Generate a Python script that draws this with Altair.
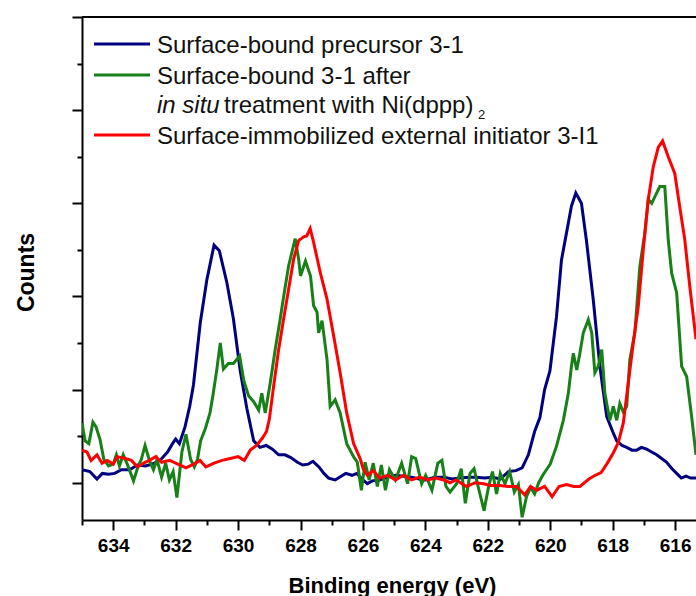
import altair as alt
import pandas as pd

# ---------------- data ----------------
series_names = [
    "Surface-bound precursor 3-1",
    "Surface-bound 3-1 after in situ treatment with Ni(dppp)2",
    "Surface-immobilized external initiator 3-I1",
]
series_colors = ["#000080", "#178017", "#ff0000"]

blue_x = [635.0, 634.75, 634.52, 634.35, 634.15, 633.95, 633.74, 633.48, 633.22, 632.97,
          632.75, 632.5, 632.26, 632.1, 632.0, 631.88, 631.7, 631.55, 631.43, 631.21,
          631.0, 630.77, 630.6, 630.36, 630.15, 629.93, 629.72, 629.5, 629.3, 629.1,
          628.9, 628.7, 628.5, 628.31, 628.1, 627.93, 627.75, 627.6, 627.41, 627.25,
          627.1, 626.89, 626.75, 626.55, 626.35, 626.2, 626.0, 625.86, 625.7, 625.47,
          625.2, 624.96, 624.7, 624.44, 624.2, 624.0, 623.7, 623.41, 623.15, 622.89,
          622.6, 622.37, 622.1, 621.85, 621.6, 621.34, 621.1, 620.9, 620.7, 620.5,
          620.33, 620.18, 620.01, 619.8, 619.64, 619.48, 619.32, 619.18, 619.0, 618.84,
          618.62, 618.41, 618.19, 618.0, 617.87, 617.7, 617.55, 617.38, 617.23, 617.08,
          616.91, 616.75, 616.59, 616.43, 616.27, 616.1, 615.95, 615.8, 615.65, 615.5,
          615.33]
blue_y = [0.14, 0.12, 0.04, 0.1, 0.09, 0.1, 0.14, 0.14, 0.19, 0.18,
          0.2, 0.24, 0.33, 0.42, 0.47, 0.42, 0.6, 0.82, 1.05, 1.72,
          2.18, 2.55, 2.49, 2.15, 1.76, 1.2, 0.8, 0.45, 0.38, 0.4,
          0.36, 0.3, 0.3, 0.27, 0.22, 0.19, 0.2, 0.23, 0.17, 0.1,
          0.05, 0.03, 0.06, 0.1, 0.08, 0.1, 0.03, -0.01, 0.02, 0.03,
          0.06, 0.08, 0.07, 0.06, 0.04, 0.03, 0.06, 0.06, 0.04, 0.05,
          0.06, 0.06, 0.05, 0.06, 0.04, 0.12, 0.13, 0.16, 0.3, 0.55,
          0.7, 1.0, 1.2, 1.78, 2.39, 2.68, 2.97, 3.11, 3.0, 2.6,
          1.96, 1.25, 0.71, 0.55, 0.45, 0.4, 0.38, 0.35, 0.35, 0.38,
          0.36, 0.33, 0.3, 0.26, 0.22, 0.15, 0.1, 0.05, 0.07, 0.05,
          0.05]

green_x = [635.0, 634.9, 634.78, 634.65, 634.55, 634.42, 634.3, 634.15, 634.0, 633.9,
           633.8, 633.68, 633.55, 633.35, 633.2, 633.1, 632.98, 632.84, 632.71, 632.6,
           632.45, 632.32, 632.2, 632.08, 631.96, 631.8, 631.67, 631.52, 631.4, 631.3,
           631.2, 631.05, 630.9, 630.8, 630.68, 630.57, 630.47, 630.31, 630.15, 629.95,
           629.82, 629.66, 629.5, 629.34, 629.24, 629.13, 628.97, 628.81, 628.65, 628.54,
           628.38, 628.17, 628.06, 628.0, 627.84, 627.68, 627.58, 627.47, 627.42, 627.31,
           627.15, 627.05, 626.89, 626.73, 626.52, 626.3, 626.18, 626.05, 625.93, 625.8,
           625.67, 625.54, 625.41, 625.28, 625.15, 624.96, 624.76, 624.57, 624.44, 624.31,
           624.12, 623.99, 623.79, 623.6, 623.47, 623.34, 623.21, 623.0, 622.85, 622.72,
           622.57, 622.44, 622.31, 622.12, 621.98, 621.85, 621.72, 621.6, 621.45, 621.3,
           621.15, 621.02, 620.9, 620.76, 620.63, 620.5, 620.37, 620.24, 620.1, 620.0,
           619.8, 619.58, 619.42, 619.32, 619.26, 619.15, 619.05, 618.94, 618.78, 618.67,
           618.57, 618.46, 618.35, 618.25, 618.09, 617.98, 617.87, 617.77, 617.66, 617.55,
           617.45, 617.29, 617.13, 616.97, 616.86, 616.75, 616.65, 616.49, 616.33, 616.22,
           616.11, 615.95, 615.79, 615.63, 615.47, 615.33]
green_y = [0.64, 0.45, 0.42, 0.65, 0.6, 0.46, 0.25, 0.18, 0.2, 0.3,
           0.18, 0.3, 0.2, 0.02, 0.18, 0.25, 0.4, 0.24, 0.14, 0.25,
           0.06, 0.21, 0.03, 0.12, -0.16, 0.33, 0.52, 0.25, 0.17, 0.25,
           0.45, 0.58, 0.75, 0.95, 1.22, 1.5, 1.22, 1.28, 1.28, 1.36,
           1.1, 0.93, 0.87, 0.78, 0.96, 0.75, 1.07, 1.43, 1.76, 2.0,
           2.33, 2.62, 2.4, 2.22, 2.38, 2.22, 1.9, 1.83, 1.61, 1.74,
           1.32, 0.82, 0.89, 0.75, 0.42, 0.28, 0.22, -0.08, 0.22, 0.03,
           0.21, -0.04, 0.19, -0.08, 0.14, 0.03, 0.21, -0.01, 0.28, 0.26,
           -0.01, 0.08, -0.08, 0.21, 0.24, -0.04, -0.1, -0.01, 0.15, -0.22,
           0.1, 0.15, -0.04, -0.3, -0.05, 0.12, -0.12, 0.1, -0.01, 0.12,
           -0.1, -0.02, -0.37, -0.15, -0.05, -0.12, 0.0, 0.08, 0.15, 0.2,
           0.39, 0.67, 0.96, 1.25, 1.39, 1.21, 1.39, 1.61, 1.75, 1.61,
           1.18, 1.25, 1.43, 0.96, 0.67, 0.82, 0.67, 0.85, 0.76, 0.82,
           1.32, 1.61, 2.32, 2.68, 3.04, 3.0, 3.07, 3.18, 3.18, 2.61,
           2.25, 2.04, 1.25, 1.14, 0.71, 0.3]

red_x = [635.0, 634.84, 634.71, 634.52, 634.36, 634.19, 634.0, 633.87, 633.61, 633.42,
         633.22, 633.03, 632.84, 632.64, 632.45, 632.19, 631.93, 631.67, 631.42, 631.22,
         631.03, 630.77, 630.51, 630.25, 630.0, 629.8, 629.61, 629.41, 629.22, 629.09,
         629.0, 628.86, 628.7, 628.54, 628.38, 628.22, 628.06, 627.9, 627.8, 627.69,
         627.58, 627.37, 627.15, 626.94, 626.73, 626.52, 626.3, 626.09, 625.99, 625.86,
         625.67, 625.47, 625.21, 624.96, 624.7, 624.44, 624.18, 623.92, 623.66, 623.41,
         623.21, 623.02, 622.68, 622.4, 622.14, 621.9, 621.61, 621.35, 621.08, 620.82,
         620.63, 620.43, 620.18, 619.94, 619.72, 619.48, 619.25, 619.05, 618.76, 618.56,
         618.37, 618.19, 617.98, 617.82, 617.66, 617.5, 617.34, 617.18, 617.02, 616.86,
         616.7, 616.54, 616.4, 616.22, 616.01, 615.85, 615.69, 615.53, 615.33]
red_y = [0.35, 0.33, 0.24, 0.3, 0.21, 0.24, 0.2, 0.28, 0.26, 0.24,
         0.17, 0.21, 0.24, 0.28, 0.22, 0.24, 0.2, 0.16, 0.2, 0.24,
         0.17, 0.21, 0.24, 0.26, 0.28, 0.24, 0.35, 0.4, 0.48, 0.55,
         0.68, 1.04, 1.43, 1.76, 2.08, 2.4, 2.6, 2.64, 2.65, 2.73,
         2.58, 2.26, 1.97, 1.58, 1.18, 0.75, 0.42, 0.26, 0.15, 0.08,
         0.13, 0.05, 0.08, 0.03, 0.08, 0.03, 0.06, 0.03, 0.05, 0.03,
         0.0, 0.03, -0.04, 0.0, -0.01, -0.03, -0.03, -0.04, -0.04, -0.13,
         -0.04, -0.08, -0.04, -0.15, -0.04, -0.02, -0.04, -0.04, 0.04, 0.08,
         0.11, 0.2, 0.32, 0.43, 0.64, 1.07, 1.5, 1.89, 2.5, 3.04,
         3.39, 3.6, 3.67, 3.5, 3.32, 2.96, 2.61, 2.11, 1.54]

x_major_ticks = [616, 618, 620, 622, 624, 626, 628, 630, 632, 634]
x_minor_ticks = [617, 619, 621, 623, 625, 627, 629, 631, 633, 635]
y_major_ticks = [0, 1, 2, 3, 4, 5]
y_minor_ticks = [0.5, 1.5, 2.5, 3.5, 4.5]

legend_line1 = "Surface-bound precursor 3-1"
legend_line2 = "Surface-bound 3-1 after"
legend_line3_italic = "in situ"
legend_line3_rest = "treatment with Ni(dppp)"
legend_line3_sub = "2"
legend_line4 = "Surface-immobilized external initiator 3-I1"

x_title = "Binding energy (eV)"
y_title = "Counts"

# ---------------- build table ----------------
rows = []
for name, xs, ys in zip(series_names, [blue_x, green_x, red_x], [blue_y, green_y, red_y]):
    for xv, yv in zip(xs, ys):
        rows.append({"series": name, "energy": xv, "counts": yv})
df = pd.DataFrame(rows)

FONT = "Liberation Sans"
W, H = 614, 503

xscale = alt.Scale(domain=[615.33, 635], reverse=True, nice=False, zero=False)
yscale = alt.Scale(domain=[-0.40, 5], nice=False, zero=False)

lines = alt.Chart(df).mark_line(strokeWidth=3, clip=True).encode(
    x=alt.X("energy:Q", scale=xscale, axis=alt.Axis(
        orient="bottom", values=x_major_ticks, format="d", grid=False,
        tickSize=10, tickWidth=2, tickColor="black",
        domainWidth=2, domainColor="black",
        labelFont=FONT, labelFontSize=19, labelFontWeight="bold", labelColor="black",
        labelPadding=6, labelFlush=False,
        title=x_title, titleFont=FONT, titleFontSize=22, titleFontWeight="bold",
        titleColor="black", titleX=W / 2 + 3, titleY=72, titleAlign="center",
        titleBaseline="alphabetic")),
    y=alt.Y("counts:Q", scale=yscale, axis=alt.Axis(
        orient="left", values=y_major_ticks, labels=False, grid=False,
        tickSize=10, tickWidth=2, tickColor="black",
        domainWidth=2, domainColor="black",
        title=y_title, titleFont=FONT, titleFontSize=23, titleFontWeight="bold",
        titleColor="black", titleX=-49, titleY=255, titleAngle=270,
        titleAlign="center", titleBaseline="alphabetic")),
    color=alt.Color("series:N", scale=alt.Scale(domain=series_names, range=series_colors),
                    legend=None),
)

minor = alt.Chart(df).mark_point(opacity=0, size=1).encode(
    x=alt.X("energy:Q", scale=xscale, axis=alt.Axis(
        orient="bottom", values=x_minor_ticks, labels=False, domain=False, grid=False,
        tickSize=5, tickWidth=2, tickColor="black", title="")),
    y=alt.Y("counts:Q", scale=yscale, axis=alt.Axis(
        orient="left", values=y_minor_ticks, labels=False, domain=False, grid=False,
        tickSize=5, tickWidth=2, tickColor="black", title="")),
)

top_frame = alt.Chart(pd.DataFrame({"v": [y_major_ticks[-1]]})).mark_rule(
    strokeWidth=2, color="black").encode(y=alt.Y("v:Q", scale=yscale, axis=None))

one = pd.DataFrame({"a": [0]})

def sample(color, ypix):
    return alt.Chart(one).mark_rule(strokeWidth=3, color=color).encode(
        x=alt.value(12), x2=alt.value(68), y=alt.value(ypix))

def label(txt, xpix, ypix, size=24, style="normal"):
    return alt.Chart(one).mark_text(
        text=txt, align="left", baseline="alphabetic", font=FONT, fontSize=size,
        fontStyle=style, color="#111111").encode(x=alt.value(xpix), y=alt.value(ypix))

legend_layers = [
    sample(series_colors[0], 27),
    sample(series_colors[1], 58),
    sample(series_colors[2], 118),
    label(legend_line1, 75, 36),
    label(legend_line2, 75, 67),
    label(legend_line3_italic, 75, 96, style="italic"),
    label(legend_line3_rest, 142, 96),
    label(legend_line3_sub, 396, 102, size=13),
    label(legend_line4, 75, 127),
]

chart = alt.layer(lines, minor, top_frame, *legend_layers).resolve_axis(
    x="independent", y="independent"
).properties(
    width=W, height=H,
    padding={"left": 82, "top": 17, "right": 0, "bottom": 76},
    autosize=alt.AutoSizeParams(type="none"),
    background="white",
).configure_view(stroke=None)

chart.save("out.html", embed_options={"renderer": "svg", "actions": False})
